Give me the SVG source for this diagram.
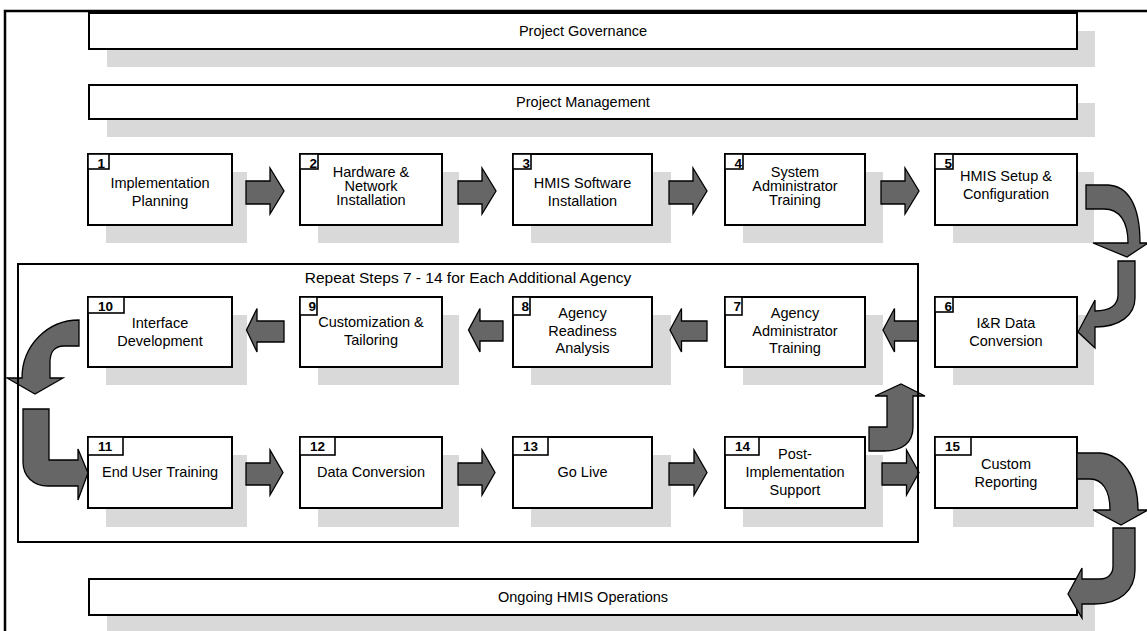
<svg xmlns="http://www.w3.org/2000/svg" width="1147" height="631" viewBox="0 0 1147 631">
<style>
.sh{fill:#d9d9d9;stroke:none}
.bx{fill:#fff;stroke:#000;stroke-width:2}
.tg{fill:#fff;stroke:#000;stroke-width:1.6}
.t{font-family:"Liberation Sans",Arial,sans-serif;font-size:14.5px;fill:#000;text-anchor:middle}
.n{font-family:"Liberation Sans",Arial,sans-serif;font-size:13.5px;font-weight:bold;fill:#000}
.ar{fill:#666;stroke:#000;stroke-width:1.3;stroke-linejoin:miter}
.fr{fill:none;stroke:#000;stroke-width:2}
</style>
<rect width="1147" height="631" fill="#fff"/>

<g id="shadows">
<rect class="sh" x="107" y="31" width="988" height="36"/>
<rect class="sh" x="107" y="103" width="988" height="34"/>
<rect class="sh" x="107" y="597" width="988" height="40"/>
<rect class="sh" x="106" y="172" width="141" height="71"/>
<rect class="sh" x="318" y="172" width="141" height="71"/>
<rect class="sh" x="531" y="172" width="140" height="71"/>
<rect class="sh" x="743" y="172" width="140" height="71"/>
<rect class="sh" x="953" y="172" width="141" height="71"/>
<rect class="sh" x="106" y="315" width="141" height="70"/>
<rect class="sh" x="318" y="315" width="141" height="70"/>
<rect class="sh" x="531" y="315" width="140" height="70"/>
<rect class="sh" x="743" y="315" width="140" height="70"/>
<rect class="sh" x="953" y="315" width="141" height="70"/>
<rect class="sh" x="106" y="455" width="141" height="72"/>
<rect class="sh" x="318" y="455" width="141" height="72"/>
<rect class="sh" x="531" y="455" width="140" height="72"/>
<rect class="sh" x="743" y="455" width="140" height="72"/>
<rect class="sh" x="953" y="455" width="141" height="72"/>
</g>

<g id="governance">
<rect class="bx" x="89" y="13" width="988" height="36"/>
<text class="t" x="583" y="36">Project Governance</text>
</g>
<g id="management">
<rect class="bx" x="89" y="85" width="988" height="34"/>
<text class="t" x="583" y="107">Project Management</text>
</g>
<g id="operations">
<rect class="bx" x="89" y="579" width="988" height="36"/>
<text class="t" x="583" y="602">Ongoing HMIS Operations</text>
</g>

<g id="step1">
<rect class="bx" x="88" y="154" width="144" height="71"/>
<rect class="tg" x="88" y="154" width="21" height="15"/>
<text class="n" x="97.5" y="167.5">1</text>
<text class="t" x="160" y="188">Implementation</text>
<text class="t" x="160" y="206">Planning</text>
</g>
<g id="step2">
<rect class="bx" x="300" y="154" width="142" height="71"/>
<rect class="tg" x="300" y="154" width="18" height="15"/>
<text class="n" x="309.5" y="167.5">2</text>
<text class="t" x="371" y="177">Hardware &amp;</text>
<text class="t" x="371" y="191">Network</text>
<text class="t" x="371" y="205">Installation</text>
</g>
<g id="step3">
<rect class="bx" x="513" y="154" width="139" height="71"/>
<rect class="tg" x="513" y="154" width="18" height="15"/>
<text class="n" x="522.5" y="167.5">3</text>
<text class="t" x="582.5" y="188">HMIS Software</text>
<text class="t" x="582.5" y="206">Installation</text>
</g>
<g id="step4">
<rect class="bx" x="725" y="154" width="140" height="71"/>
<rect class="tg" x="725" y="154" width="18" height="15"/>
<text class="n" x="734.5" y="167.5">4</text>
<text class="t" x="795" y="177">System</text>
<text class="t" x="795" y="191">Administrator</text>
<text class="t" x="795" y="205">Training</text>
</g>
<g id="step5">
<rect class="bx" x="935" y="154" width="142" height="71"/>
<rect class="tg" x="935" y="154" width="18" height="15"/>
<text class="n" x="944.5" y="167.5">5</text>
<text class="t" x="1006" y="181">HMIS Setup &amp;</text>
<text class="t" x="1006" y="199">Configuration</text>
</g>
<g id="step6">
<rect class="bx" x="935" y="297" width="142" height="70"/>
<rect class="tg" x="935" y="297" width="18" height="15"/>
<text class="n" x="944.5" y="310.5">6</text>
<text class="t" x="1006" y="328">I&amp;R Data</text>
<text class="t" x="1006" y="346">Conversion</text>
</g>
<g id="step7">
<rect class="bx" x="725" y="297" width="140" height="70"/>
<rect class="tg" x="725" y="297" width="17" height="18"/>
<text class="n" x="733.5" y="311">7</text>
<text class="t" x="795" y="318">Agency</text>
<text class="t" x="795" y="336">Administrator</text>
<text class="t" x="795" y="353">Training</text>
</g>
<g id="step8">
<rect class="bx" x="513" y="297" width="139" height="70"/>
<rect class="tg" x="513" y="297" width="17" height="18"/>
<text class="n" x="521.5" y="311">8</text>
<text class="t" x="582.5" y="318">Agency</text>
<text class="t" x="582.5" y="336">Readiness</text>
<text class="t" x="582.5" y="353">Analysis</text>
</g>
<g id="step9">
<rect class="bx" x="300" y="297" width="142" height="70"/>
<rect class="tg" x="300" y="297" width="17" height="18"/>
<text class="n" x="308.5" y="311">9</text>
<text class="t" x="371" y="327">Customization &amp;</text>
<text class="t" x="371" y="345">Tailoring</text>
</g>
<g id="step10">
<rect class="bx" x="88" y="297" width="144" height="70"/>
<rect class="tg" x="88" y="297" width="36" height="16"/>
<text class="n" x="98" y="310.5">10</text>
<text class="t" x="160" y="328">Interface</text>
<text class="t" x="160" y="346">Development</text>
</g>
<g id="step11">
<rect class="bx" x="88" y="437" width="144" height="71"/>
<rect class="tg" x="88" y="437" width="35" height="18"/>
<text class="n" x="98" y="451">11</text>
<text class="t" x="160" y="477">End User Training</text>
</g>
<g id="step12">
<rect class="bx" x="300" y="437" width="142" height="71"/>
<rect class="tg" x="300" y="437" width="35" height="18"/>
<text class="n" x="310" y="451">12</text>
<text class="t" x="371" y="477">Data Conversion</text>
</g>
<g id="step13">
<rect class="bx" x="513" y="437" width="139" height="71"/>
<rect class="tg" x="513" y="437" width="35" height="18"/>
<text class="n" x="523" y="451">13</text>
<text class="t" x="582.5" y="477">Go Live</text>
</g>
<g id="step14">
<rect class="bx" x="725" y="437" width="140" height="71"/>
<rect class="tg" x="725" y="437" width="34" height="18"/>
<text class="n" x="735" y="451">14</text>
<text class="t" x="795" y="459">Post-</text>
<text class="t" x="795" y="477">Implementation</text>
<text class="t" x="795" y="495">Support</text>
</g>
<g id="step15">
<rect class="bx" x="935" y="437" width="142" height="71"/>
<rect class="tg" x="935" y="437" width="36" height="18"/>
<text class="n" x="945" y="451">15</text>
<text class="t" x="1006" y="469">Custom</text>
<text class="t" x="1006" y="487">Reporting</text>
</g>

<g id="connectors">
<path class="ar" d="M246,181 H270 V168 L284,191 L270,214 V204 H246 Z"/>
<path class="ar" d="M458,181 H482 V168 L496,191 L482,214 V204 H458 Z"/>
<path class="ar" d="M669,181 H693 V168 L707,191 L693,214 V204 H669 Z"/>
<path class="ar" d="M881,181 H905 V168 L919,191 L905,214 V204 H881 Z"/>
<path class="ar" d="M1086,185 L1108,185 C1128,186 1140,205 1140,243 L1148,243 L1127,257 L1093,243 L1128,243 C1128,222 1120,209 1104,209 L1086,209 Z"/>
<path class="ar" d="M1118,261 L1135,261 L1135,298 C1135,315 1120,327 1095,327 L1095,348 L1078,332 L1095,300 L1095,311 C1110,311 1118,305 1118,295 Z"/>
<path class="ar" d="M918,321 H894.5 V308.5 L883,330 L894.5,352 V341 H918 Z"/>
<path class="ar" d="M707,321 H681.5 V308.5 L670,330 L681.5,352 V341 H707 Z"/>
<path class="ar" d="M503,321 H480 V308.5 L468.5,330 L480,352 V341 H503 Z"/>
<path class="ar" d="M284,321 H257 V308.5 L246.5,330 L257,352 V342 H284 Z"/>
<path class="ar" d="M79,320 L79,346 L64,346 C55,346 50,352 50,362 L50,378 L63,378 L35,394 L7,378 L22,378 C22,346 47,320 79,320 Z"/>
<path class="ar" d="M23,409 L49,409 L49,460 L78,460 L78,449 L88,473 L78,500 L78,486 L48,486 C33,486 23,476 23,462 Z"/>
<path class="ar" d="M246,463 H270 V450 L283,472.5 L270,495 V485 H246 Z"/>
<path class="ar" d="M458,463 H482 V450 L495,472.5 L482,495 V485 H458 Z"/>
<path class="ar" d="M669,463 H694 V450 L707,472.5 L694,495 V485 H669 Z"/>
<path class="ar" d="M882,463 H906.5 V450 L919,472.5 L906.5,495 V485 H882 Z"/>
<path class="ar" d="M869,451 L869,427 L887,427 L887,396 L875,396 L901,384 L925,396 L913,396 L913,427 C913,443 902,451 884,451 Z"/>
<path class="ar" d="M1077,453 L1100,453 C1122,455 1138,475 1138,510 L1148,510 L1121,525 L1093,510 L1110,510 C1110,490 1102,479 1090,479 L1077,479 Z"/>
<path class="ar" d="M1113,528 L1135,528 L1135,570 C1135,590 1120,604 1095,604 L1082,604 L1082,618 L1068,594 L1082,568 L1082,579 L1100,579 C1108,579 1113,574 1113,566 Z"/>
</g>

<g id="repeat-frame">
<rect class="fr" x="18" y="264" width="900" height="278"/>
<text class="t" x="468" y="283" style="font-size:15.5px">Repeat Steps 7 - 14 for Each Additional Agency</text>
</g>
<g id="outer-frame">
<path d="M5,631 V11 H1147" fill="none" stroke="#000" stroke-width="2.5"/>
</g>
</svg>
